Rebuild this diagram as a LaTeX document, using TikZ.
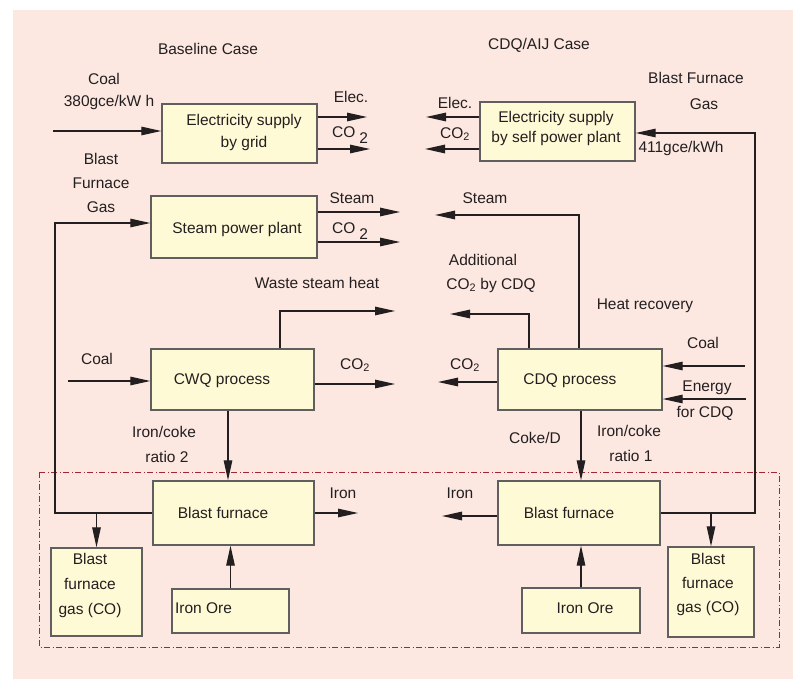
\documentclass[tikz,border=0pt]{standalone}
\usepackage{fontspec}
\setmainfont{Liberation Sans}
\usetikzlibrary{arrows.meta,calc}
\definecolor{bgpink}{RGB}{252,231,225}
\definecolor{boxfill}{RGB}{255,250,214}
\definecolor{boxline}{RGB}{95,95,95}
\definecolor{ink}{RGB}{35,31,32}
\definecolor{framecol}{RGB}{160,40,50}
\newcommand{\cotwo}{CO\textsubscript{2}}
\newcommand{\cospace}{CO\hspace{4pt}\raisebox{-6pt}{2}}
\begin{document}
\begin{tikzpicture}[x=1pt,y=-1pt,
  every node/.style={font=\fontsize{15.5}{24}\selectfont, text=ink},
  box/.style={draw=boxline, fill=boxfill, line width=1.3pt, inner sep=0pt, rectangle},
  lbl/.style={inner sep=0pt, align=center},
  arr/.style={draw=ink, line width=1.2pt, -{Triangle[length=20pt,width=8.5pt]}},
]
\useasboundingbox (0,0) rectangle (793,679);
\fill[bgpink] (13,10) rectangle (793,679);

% frame
\draw[framecol, line width=0.9pt, dash pattern=on 6pt off 2.5pt on 1pt off 2.5pt] (39,472) rectangle (779,647);

% boxes
\node[box, minimum width=155pt, minimum height=59pt] (grid) at (239.5,133.5) {};
\node[box, minimum width=155pt, minimum height=59pt] (self) at (557.5,131.5) {};
\node[box, minimum width=166pt, minimum height=62pt] (spp) at (234,227) {};
\node[box, minimum width=163pt, minimum height=61pt] (cwq) at (232.5,379.5) {};
\node[box, minimum width=164pt, minimum height=61pt] (cdq) at (580,379.5) {};
\node[box, minimum width=161pt, minimum height=64pt] (bfL) at (233.5,513) {};
\node[box, minimum width=162pt, minimum height=64pt] (bfR) at (579,513) {};
\node[box, minimum width=91pt, minimum height=88pt] (bfgL) at (96.5,592) {};
\node[box, minimum width=117pt, minimum height=44pt] (oreL) at (230.5,611) {};
\node[box, minimum width=118pt, minimum height=45pt] (oreR) at (581,610.5) {};
\node[box, minimum width=86pt, minimum height=90pt] (bfgR) at (711,592) {};

% box texts
\node[lbl, font=\fontsize{15.5}{22}\selectfont] (gridt) at (244,132) {Electricity supply\\by grid};
\node[lbl, font=\fontsize{15.5}{20}\selectfont] (selft) at (556,128) {Electricity supply\\by self power plant};
\node[lbl] (sppt) at (237,229) {Steam power plant};
\node[lbl] (cwqt) at (222,381) {CWQ process};
\node[lbl] (cdqt) at (570,381) {CDQ process};
\node[lbl] (bfLt) at (223,513) {Blast furnace};
\node[lbl] (bfRt) at (569,513) {Blast furnace};
\node[lbl, font=\fontsize{15.5}{25}\selectfont] (bfgLt) at (90,585) {Blast\\furnace\\gas (CO)};
\node[lbl, font=\fontsize{15.5}{24}\selectfont] (bfgRt) at (708,584) {Blast\\furnace\\gas (CO)};
\node[lbl] (oreLt) at (203.5,608) {Iron Ore};
\node[lbl] (oreRt) at (585,608) {Iron Ore};

% free labels
\node[lbl] (base) at (208,49) {Baseline Case};
\node[lbl] (cdqcase) at (539,45) {CDQ/AIJ Case};
\node[lbl] (coal1) at (104,79) {Coal};
\node[lbl] (gce1) at (109,102) {380gce/kW h};
\node[lbl] (elec1) at (351,97) {Elec.};
\node[lbl] (co2a) at (350,135) {\cospace};
\node[lbl] (bfgas) at (101,183) {Blast\\Furnace\\Gas};
\node[lbl] (steam1) at (352,198) {Steam};
\node[lbl] (co2b) at (350,231) {\cospace};
\node[lbl] (bfg2) at (696,78) {Blast Furnace};
\node[lbl] (gas2) at (704,104) {Gas};
\node[lbl] (gce2) at (681,148) {411gce/kWh};
\node[lbl] (elec2) at (455,103) {Elec.};
\node[lbl] (co2c) at (455,134) {\cotwo};
\node[lbl] (steam2) at (485,198) {Steam};
\node[lbl] (waste) at (317,283) {Waste steam heat};
\node[lbl] (addl) at (483,260) {Additional};
\node[lbl] (addco) at (491,285) {\cotwo{} by CDQ};
\node[lbl] (heat) at (645,306) {Heat recovery};
\node[lbl] (coal2) at (97,359) {Coal};
\node[lbl] (co2d) at (355,365) {\cotwo};
\node[lbl] (co2e) at (465,365) {\cotwo};
\node[lbl] (coal3) at (703,343) {Coal};
\node[lbl] (energy) at (707,388) {Energy};
\node[lbl] (forcdq) at (705,413) {for CDQ};
\node[lbl] (ic2) at (164,432) {Iron/coke};
\node[lbl] (r2) at (167,457) {ratio 2};
\node[lbl] (coked) at (535,438) {Coke/D};
\node[lbl] (ic1) at (629,431) {Iron/coke};
\node[lbl] (r1) at (631,456) {ratio 1};
\node[lbl] (ironL) at (343,493) {Iron};
\node[lbl] (ironR) at (460,493) {Iron};

% left connectors
\coordinate (c1) at (53,131);
\draw[arr] (c1) -- (c1 -| grid.west);
\coordinate (e1) at (367,117);
\draw[arr] (e1 -| grid.east) -- (e1);
\coordinate (e2) at (370,149);
\draw[arr] (e2 -| grid.east) -- (e2);
\coordinate (s1) at (400,212);
\draw[arr] (s1 -| spp.east) -- (s1);
\coordinate (s2) at (400,242);
\draw[arr] (s2 -| spp.east) -- (s2);
\coordinate (bl) at (55,223);
\draw[arr] (bfL.west) -| (bl) -- (bl -| spp.west);
\draw[arr] (bfgL.north |- bfL.west) -- (bfgL.north);
\coordinate (ws) at (280,311);
\coordinate (wse) at (395,311);
\draw[arr] (ws |- cwq.north) -- (ws) -- (wse);
\coordinate (c2) at (68,381);
\draw[arr] (c2) -- (c2 -| cwq.west);
\coordinate (co3) at (395,384);
\draw[arr] (co3 -| cwq.east) -- (co3);
\coordinate (dL) at (228,0);
\draw[arr] (dL |- cwq.south) -- (dL |- bfL.north);
\draw[arr] (oreL.north) -- (oreL.north |- bfL.south);
\coordinate (irL) at (358,513);
\draw[arr] (irL -| bfL.east) -- (irL);

% right connectors
\coordinate (e3) at (426,117);
\draw[arr] (e3 -| self.west) -- (e3);
\coordinate (e4) at (425,149);
\draw[arr] (e4 -| self.west) -- (e4);
\coordinate (br) at (755,133);
\draw[arr] (bfR.east) -| (br) -- (br -| self.east);
\draw[arr] (bfgR.north |- bfR.east) -- (bfgR.north);
\coordinate (st) at (579,215);
\coordinate (ste) at (435,215);
\draw[arr] (st |- cdq.north) -- (st) -- (ste);
\coordinate (ad) at (529,314);
\coordinate (ade) at (450,314);
\draw[arr] (ad |- cdq.north) -- (ad) -- (ade);
\coordinate (co4) at (438,382);
\draw[arr] (co4 -| cdq.west) -- (co4);
\coordinate (c3) at (745,366);
\draw[arr] (c3) -- (c3 -| cdq.east);
\coordinate (en) at (746,399);
\draw[arr] (en) -- (en -| cdq.east);
\coordinate (dR) at (581,0);
\draw[arr] (dR |- cdq.south) -- (dR |- bfR.north);
\draw[arr] (oreR.north) -- (oreR.north |- bfR.south);
\coordinate (irR) at (442,516);
\draw[arr] (irR -| bfR.west) -- (irR);
\end{tikzpicture}
\end{document}
